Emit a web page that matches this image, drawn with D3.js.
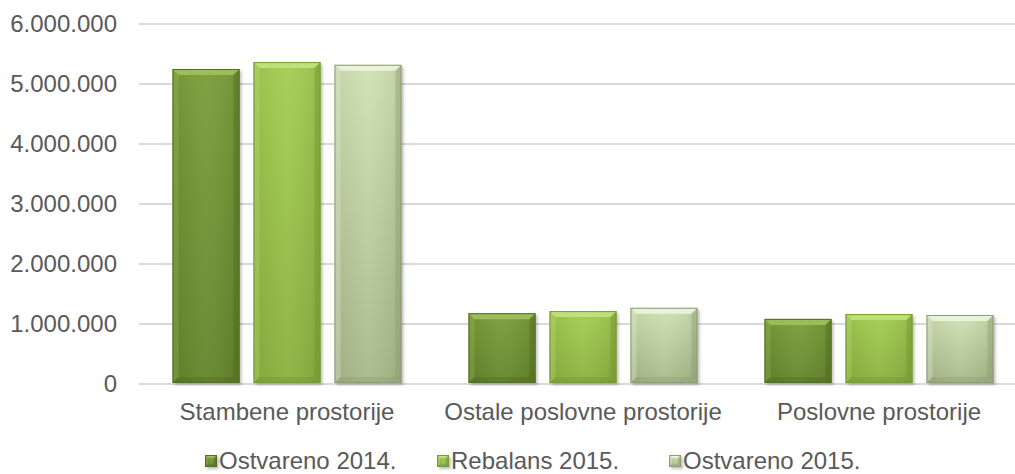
<!DOCTYPE html>
<html><head><meta charset="utf-8">
<script src="https://cdn.jsdelivr.net/npm/d3@7"></script>
<style>
body{margin:0;background:#fff}
text{font-family:"Liberation Sans",Arial,sans-serif;fill:#595959}
</style>
</head><body>
<svg id="c" width="1015" height="474"></svg>
<script>
const categories = ["Stambene prostorije", "Ostale poslovne prostorije", "Poslovne prostorije"];
const seriesNames = ["Ostvareno 2014.", "Rebalans 2015.", "Ostvareno 2015."];
const ostvareno2014 = [5250000, 1180000, 1085000];
const rebalans2015 = [5365000, 1215000, 1165000];
const ostvareno2015 = [5320000, 1270000, 1150000];
const yTicks = [0, 1000000, 2000000, 3000000, 4000000, 5000000, 6000000];

(function () {
const seriesValues = [ostvareno2014, rebalans2015, ostvareno2015];
const palette = [
  {top:"#7c9d3a", bottom:"#64852b", light:"#a0c05c", dark:"#4c681d", stroke:"#526e20"},
  {top:"#a4cd52", bottom:"#8bb13e", light:"#c3e27e", dark:"#6e922e", stroke:"#789a33"},
  {top:"#cfe2b3", bottom:"#a7b98a", light:"#ecf4e0", dark:"#8a9a6c", stroke:"#8e9f76"}
];

const svg = d3.select("#c");
const pLeft = 139, pRight = 1027, pTop = 24, pBottom = 384;
const x0 = d3.scaleBand().domain(categories).range([pLeft, pRight]).paddingInner(0).paddingOuter(0);
const x1 = d3.scaleBand().domain(seriesNames).range([0, x0.bandwidth()]).paddingInner(0.173).paddingOuter(0.414);
const y = d3.scaleLinear().domain([0, 6000000]).range([pBottom, pTop]);
const loc = d3.formatLocale({decimal:",", thousands:".", grouping:[3], currency:["",""]});
const fmt = loc.format(",.0f");

const defs = svg.append("defs");
palette.forEach((p, i) => {
  const g = defs.append("linearGradient").attr("id", "g" + i).attr("x1", 0).attr("y1", 0).attr("x2", 0).attr("y2", 1);
  g.append("stop").attr("offset", "0%").attr("stop-color", p.top);
  g.append("stop").attr("offset", "100%").attr("stop-color", p.bottom);
  const h = defs.append("linearGradient").attr("id", "h" + i).attr("x1", 0).attr("y1", 0).attr("x2", 1).attr("y2", 0);
  h.append("stop").attr("offset", "0%").attr("stop-color", "#000").attr("stop-opacity", 0.06);
  h.append("stop").attr("offset", "50%").attr("stop-color", "#fff").attr("stop-opacity", 0.05);
  h.append("stop").attr("offset", "100%").attr("stop-color", "#000").attr("stop-opacity", 0.08);
});
const f = defs.append("filter").attr("id", "sh").attr("x", "-20%").attr("y", "-20%").attr("width", "140%").attr("height", "140%");
f.append("feGaussianBlur").attr("stdDeviation", 1.5);

// grid
const grid = svg.append("g");
grid.selectAll("line").data(yTicks).join("line")
  .attr("x1", pLeft).attr("x2", 1015)
  .attr("y1", d => y(d)).attr("y2", d => y(d))
  .attr("stroke", "#d9d9d9").attr("stroke-width", 2);

// y axis labels
const yAxis = d3.axisLeft(y).tickValues(yTicks).tickFormat(fmt).tickSize(0).tickPadding(22);
const ya = svg.append("g").attr("transform", `translate(${pLeft},0)`).call(yAxis);
ya.select(".domain").remove();
ya.selectAll("text").attr("font-size", 24).attr("font-family", '"Liberation Sans",Arial,sans-serif').attr("fill", "#595959");

// x axis labels
const xAxis = d3.axisBottom(x0).tickSize(0).tickPadding(19);
const xa = svg.append("g").attr("transform", `translate(0,${pBottom})`).call(xAxis);
xa.select(".domain").remove();
xa.selectAll("text").attr("font-size", 24).attr("font-family", '"Liberation Sans",Arial,sans-serif').attr("fill", "#595959");

function bevelBar(g, bx, by, bw, bh, i, b) {
  const p = palette[i];
  g.append("rect").attr("x", bx + 2).attr("y", by + 2).attr("width", bw).attr("height", bh)
    .attr("fill", "#000").attr("opacity", 0.25).attr("filter", "url(#sh)");
  g.append("rect").attr("x", bx).attr("y", by).attr("width", bw).attr("height", bh).attr("fill", `url(#g${i})`);
  g.append("rect").attr("x", bx).attr("y", by).attr("width", bw).attr("height", bh).attr("fill", `url(#h${i})`);
  const x2 = bx + bw, y2 = by + bh;
  g.append("polygon").attr("points", `${bx},${by} ${x2},${by} ${x2-b},${by+b} ${bx+b},${by+b}`).attr("fill", p.light).attr("opacity", 0.9);
  g.append("polygon").attr("points", `${bx},${by} ${bx+b},${by+b} ${bx+b},${y2-b} ${bx},${y2}`).attr("fill", p.light).attr("opacity", 0.3);
  g.append("polygon").attr("points", `${x2},${by} ${x2},${y2} ${x2-b},${y2-b} ${x2-b},${by+b}`).attr("fill", p.dark).attr("opacity", 0.4);
  g.append("polygon").attr("points", `${bx},${y2} ${x2},${y2} ${x2-b},${y2-b} ${bx+b},${y2-b}`).attr("fill", p.dark).attr("opacity", 0.35);
  g.append("rect").attr("x", bx + 0.5).attr("y", by + 0.5).attr("width", bw - 1).attr("height", bh - 1)
    .attr("fill", "none").attr("stroke", p.stroke).attr("stroke-width", 1);
}

// bars
const bars = svg.append("g");
categories.forEach((c, ci) => {
  seriesNames.forEach((s, si) => {
    const v = seriesValues[si][ci];
    const bx = x0(c) + x1(s), by = y(v);
    bevelBar(bars.append("g"), bx, by, x1.bandwidth(), y(0) - by - 1, si, 6);
  });
});

// legend
const legendX = [205, 437, 669];
const lg = svg.append("g");
seriesNames.forEach((s, si) => {
  const g = lg.append("g");
  bevelBar(g, legendX[si], 455, 12, 12, si, 3);
  g.append("text").attr("x", legendX[si] + 14).attr("y", 469).attr("font-size", 24).text(s);
});
})();
</script>
</body></html>
